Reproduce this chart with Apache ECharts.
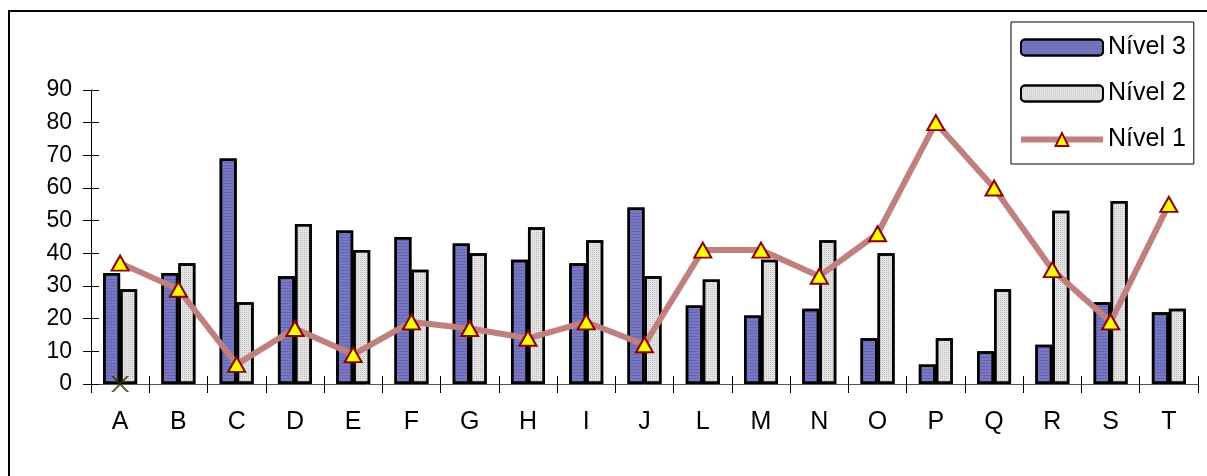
<!DOCTYPE html>
<html>
<head>
<meta charset="utf-8">
<script src="https://cdn.jsdelivr.net/npm/echarts@6/dist/echarts.min.js"></script>
<style>
  html, body { margin: 0; padding: 0; background: #fff; }
  #chart { width: 1207px; height: 476px; }
</style>
</head>
<body>
<div id="chart"></div>
<script>
// Categories along the bottom axis
const categories = ['A','B','C','D','E','F','G','H','I','J','L','M','N','O','P','Q','R','S','T'];

// Values per level
const nivel3 = [34, 34, 69, 33, 47, 45, 43, 38, 37, 54, 24, 21, 23, 14, 6, 10, 12, 25, 22];
const nivel2 = [29, 37, 25, 49, 41, 35, 40, 48, 44, 33, 32, 38, 44, 40, 14, 29, 53, 56, 23];
const nivel1 = [37, 29, 6, 17, 9, 19, 17, 14, 19, 12, 41, 41, 33, 46, 80, 60, 35, 19, 55];

// Single cross marker sitting on the baseline of the first category
const marca = [0, null, null, null, null, null, null, null, null, null, null, null, null, null, null, null, null, null, null];

// Value axis ticks
const yTicks = { min: 0, max: 90, interval: 10 };

const FONT = '"Liberation Sans", Arial, sans-serif';
const crossPath = 'path://M0,0 L3,0 L10,7 L17,0 L20,0 L11.5,8.5 L20,17 L17,17 L10,10 L3,17 L0,17 L8.5,8.5 Z';

const chart = echarts.init(document.getElementById('chart'), null, { renderer: 'canvas' });

const option = {
  backgroundColor: '#ffffff',
  animation: false,
  grid: { left: 91, right: 9, top: 90, bottom: 92, containLabel: false },
  legend: {
    data: ['Nível 3', 'Nível 2', 'Nível 1'],
    orient: 'vertical',
    left: 1011,
    top: 22,
    padding: [10, 8, 9, 7],
    itemGap: 15,
    itemWidth: 82,
    itemHeight: 16,
    borderColor: '#000',
    borderWidth: 1,
    backgroundColor: '#fff',
    selectedMode: false,
    lineStyle: { width: 6, color: '#c08080' },
    textStyle: { fontFamily: FONT, fontSize: 25, color: '#000', lineHeight: 29, padding: [2, 0, 0, 0] }
  },
  xAxis: [
    {
      type: 'category',
      data: categories,
      boundaryGap: true,
      axisLine: { show: true, lineStyle: { color: '#555', width: 1 } },
      axisTick: { show: true, inside: false, length: 9, lineStyle: { color: '#000', width: 1 } },
      axisLabel: { fontFamily: FONT, fontSize: 25, color: '#000', margin: 26 },
      splitLine: { show: false }
    },
    {
      type: 'category',
      data: categories,
      position: 'bottom',
      boundaryGap: true,
      axisLine: { show: false },
      axisTick: { show: true, inside: true, length: 8, lineStyle: { color: '#000', width: 1 } },
      axisLabel: { show: false },
      splitLine: { show: false }
    }
  ],
  yAxis: [
    {
      type: 'value',
      min: yTicks.min,
      max: yTicks.max,
      interval: yTicks.interval,
      axisLine: { show: true, lineStyle: { color: '#000', width: 1 } },
      axisTick: { show: true, inside: false, length: 8, lineStyle: { color: '#000', width: 1 } },
      axisLabel: { fontFamily: FONT, fontSize: 23, color: '#000', margin: 19 },
      splitLine: { show: false }
    },
    {
      type: 'value',
      min: yTicks.min,
      max: yTicks.max,
      interval: yTicks.interval,
      position: 'left',
      axisLine: { show: false },
      axisTick: { show: true, inside: true, length: 8, lineStyle: { color: '#000', width: 1 } },
      axisLabel: { show: false },
      splitLine: { show: false }
    }
  ],
  series: [
    {
      name: 'Nível 3',
      type: 'bar',
      data: nivel3,
      barWidth: 17,
      barGap: '0%',
      itemStyle: {
        color: '#7878c2',
        borderColor: '#000',
        borderWidth: 2.5,
        decal: {
          symbol: 'rect',
          dashArrayX: [1, 0],
          dashArrayY: [1, 2],
          color: 'rgba(70, 70, 150, 0.35)',
          rotation: 0
        }
      },
      z: 2
    },
    {
      name: 'Nível 2',
      type: 'bar',
      data: nivel2,
      barWidth: 17,
      barGap: '0%',
      itemStyle: {
        color: '#e4e4e4',
        borderColor: '#000',
        borderWidth: 2.5,
        decal: {
          symbol: 'rect',
          symbolSize: 1,
          dashArrayX: [1, 1],
          dashArrayY: [1, 1],
          color: 'rgba(150, 150, 150, 0.45)',
          rotation: 0
        }
      },
      z: 2
    },
    {
      name: 'Nível 1',
      type: 'line',
      data: nivel1,
      symbol: 'triangle',
      symbolSize: [17, 15],
      lineStyle: { color: '#c08080', width: 6 },
      itemStyle: { color: '#ffff00', borderColor: '#8b0000', borderWidth: 2 },
      z: 5
    },
    {
      name: 'Marca',
      type: 'scatter',
      data: marca,
      symbol: crossPath,
      symbolSize: [18, 16],
      itemStyle: { color: '#333300' },
      z: 6
    }
  ],
  graphic: [
    {
      type: 'rect',
      shape: { x: 9, y: 11, width: 1400, height: 700 },
      style: { fill: 'none', stroke: '#000', lineWidth: 2 },
      silent: true,
      z: 100
    }
  ]
};

chart.setOption(option);
</script>
</body>
</html>
